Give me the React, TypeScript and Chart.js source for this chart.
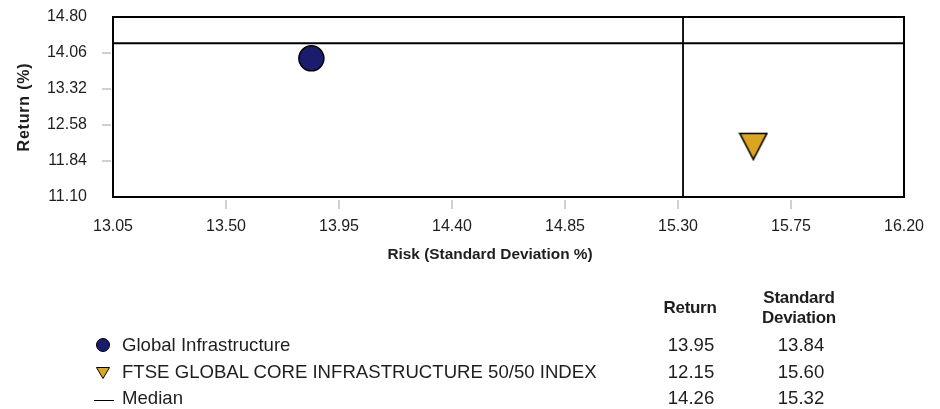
import React, { useEffect, useRef } from "react";
import { Chart, registerables } from "chart.js";

Chart.register(...registerables);

// ---- data ----
const seriesNames = ["Global Infrastructure", "FTSE GLOBAL CORE INFRASTRUCTURE 50/50 INDEX"];
const seriesRisk = [13.84, 15.6];
const seriesReturn = [13.95, 12.15];
const medianRisk = 15.32;
const medianReturn = 14.26;
const xTicks = [13.05, 13.5, 13.95, 14.4, 14.85, 15.3, 15.75, 16.2];
const yTicks = [11.1, 11.84, 12.58, 13.32, 14.06, 14.8];
const xTitle = "Risk (Standard Deviation %)";
const yTitle = "Return (%)";
const headerReturn = "Return";
const headerStd = ["Standard", "Deviation"];
const medianLabel = "Median";

const FONT = '"Liberation Sans", Arial, Helvetica, sans-serif';
const NAVY = "#1b1c6e";
const GOLD = "#daa520";
const TEXT = "#1e1e1e";

function makeTriangle(): HTMLCanvasElement {
  const c = document.createElement("canvas");
  c.width = 30;
  c.height = 30;
  const g = c.getContext("2d")!;
  g.beginPath();
  g.moveTo(1.5, 2.5);
  g.lineTo(28.5, 2.5);
  g.lineTo(15, 28.5);
  g.closePath();
  g.fillStyle = GOLD;
  g.fill();
  g.lineWidth = 1.6;
  g.lineJoin = "miter";
  g.strokeStyle = "#000";
  g.stroke();
  return c;
}

const framePlugin = {
  id: "frame",
  beforeDatasetsDraw(chart: any) {
    const { ctx, chartArea: a, scales } = chart;
    ctx.save();
    ctx.strokeStyle = "#d0d0d0";
    ctx.lineWidth = 2;
    xTicks.slice(1, -1).forEach((v) => {
      const px = Math.round(scales.x.getPixelForValue(v));
      ctx.beginPath();
      ctx.moveTo(px, a.bottom + 3);
      ctx.lineTo(px, a.bottom + 12);
      ctx.stroke();
    });
    yTicks.slice(1, -1).forEach((v) => {
      const py = Math.round(scales.y.getPixelForValue(v));
      ctx.beginPath();
      ctx.moveTo(a.left - 11, py);
      ctx.lineTo(a.left - 2, py);
      ctx.stroke();
    });
    ctx.restore();
  },
  afterDatasetsDraw(chart: any) {
    const { ctx, chartArea: a } = chart;
    ctx.save();
    ctx.strokeStyle = "#000";
    ctx.lineWidth = 2;
    ctx.strokeRect(a.left, a.top, a.right - a.left, a.bottom - a.top);
    ctx.restore();
  },
  afterDraw(chart: any) {
    const { ctx, chartArea: a } = chart;
    ctx.save();
    ctx.fillStyle = TEXT;
    ctx.textAlign = "center";
    ctx.textBaseline = "middle";
    ctx.font = `bold 15.4px ${FONT}`;
    ctx.fillText(xTitle, 490, 255);
    ctx.translate(25, (a.top + a.bottom) / 2);
    ctx.rotate(-Math.PI / 2);
    ctx.font = `bold 16px ${FONT}`;
    try { (ctx as any).letterSpacing = "0.8px"; } catch (e) {}
    ctx.fillText(yTitle, 0, 0);
    try { (ctx as any).letterSpacing = "0px"; } catch (e) {}
    ctx.restore();
  },
};

function App() {
  const ref = useRef<HTMLCanvasElement | null>(null);

  useEffect(() => {
    if (!ref.current) return;
    const tickFont = { family: FONT, size: 16 };
    const chart = new Chart(ref.current, {
      type: "scatter",
      data: {
        datasets: [
          {
            label: seriesNames[0],
            data: [{ x: seriesRisk[0], y: seriesReturn[0] }],
            pointStyle: "circle",
            pointRadius: 12.5,
            backgroundColor: NAVY,
            borderColor: "#000",
            borderWidth: 1.5,
          },
          {
            label: seriesNames[1],
            data: [{ x: seriesRisk[1], y: seriesReturn[1] }],
            pointStyle: makeTriangle(),
            pointRadius: 15,
            backgroundColor: GOLD,
            borderColor: "#000",
            borderWidth: 1.5,
          },
          {
            label: "Median Return",
            data: [
              { x: xTicks[0], y: medianReturn },
              { x: xTicks[xTicks.length - 1], y: medianReturn },
            ],
            showLine: true,
            pointRadius: 0,
            borderColor: "#000",
            borderWidth: 1.8,
            fill: false,
          } as any,
          {
            label: "Median Risk",
            data: [
              { x: medianRisk, y: yTicks[0] },
              { x: medianRisk, y: yTicks[yTicks.length - 1] },
            ],
            showLine: true,
            pointRadius: 0,
            borderColor: "#000",
            borderWidth: 1.8,
            fill: false,
          } as any,
        ],
      },
      options: {
        animation: false,
        responsive: false,
        devicePixelRatio: 1,
        layout: { padding: { left: 0, right: 36, top: 17, bottom: 0 } },
        plugins: {
          legend: { display: false },
          tooltip: { enabled: false },
        },
        scales: {
          x: {
            type: "linear",
            position: "bottom",
            min: xTicks[0],
            max: xTicks[xTicks.length - 1],
            afterBuildTicks: (s: any) => {
              s.ticks = xTicks.map((v) => ({ value: v }));
            },
            afterFit: (s: any) => {
              s.height = 409 - 197;
              s.paddingLeft = 0;
              s.paddingRight = 0;
            },
            grid: { display: false, drawTicks: false },
            border: { display: false },
            ticks: {
              font: tickFont,
              color: TEXT,
              padding: 20,
              maxRotation: 0,
              autoSkip: false,
              callback: (v: any) => Number(v).toFixed(2),
            },
          },
          y: {
            type: "linear",
            min: yTicks[0],
            max: yTicks[yTicks.length - 1],
            afterBuildTicks: (s: any) => {
              s.ticks = yTicks.map((v) => ({ value: v }));
            },
            afterFit: (s: any) => {
              s.width = 113;
              s.paddingTop = 0;
              s.paddingBottom = 0;
            },
            grid: { display: false, drawTicks: false },
            border: { display: false },
            ticks: {
              font: tickFont,
              color: TEXT,
              padding: 26,
              autoSkip: false,
              callback: (v: any) => Number(v).toFixed(2),
            },
          },
        },
      },
      plugins: [framePlugin],
    } as any);
    return () => chart.destroy();
  }, []);

  const rowY = [345, 372, 398];
  const rowText: React.CSSProperties = {
    position: "absolute",
    fontSize: 18.6,
    lineHeight: "22px",
    whiteSpace: "nowrap",
  };
  const valueCell = (cx: number, cy: number, txt: string) => (
    <div style={{ ...rowText, left: cx - 50, width: 100, top: cy - 11, textAlign: "center" }}>{txt}</div>
  );

  return (
    <div
      style={{
        position: "absolute",
        left: 0,
        top: 0,
        width: 940,
        height: 409,
        fontFamily: FONT,
        color: TEXT,
        background: "#fff",
        overflow: "hidden",
      }}
    >
      <canvas ref={ref} width={940} height={409} style={{ position: "absolute", left: 0, top: 0, width: 940, height: 409 }} />

      {/* table headers */}
      <div
        style={{
          position: "absolute",
          left: 640,
          width: 100,
          top: 298,
          textAlign: "center",
          fontWeight: "bold",
          fontSize: 17,
          lineHeight: "20px",
          letterSpacing: "-0.3px",
        }}
      >
        {headerReturn}
      </div>
      <div
        style={{
          position: "absolute",
          left: 739,
          width: 120,
          top: 288,
          textAlign: "center",
          fontWeight: "bold",
          fontSize: 17,
          lineHeight: "20px",
          letterSpacing: "-0.3px",
        }}
      >
        {headerStd[0]}
        <br />
        {headerStd[1]}
      </div>

      {/* row 1 */}
      <div
        style={{
          position: "absolute",
          left: 96,
          top: rowY[0] - 7,
          width: 14,
          height: 14,
          borderRadius: "50%",
          background: NAVY,
          boxSizing: "border-box",
          border: "1px solid #000",
        }}
      />
      <div style={{ ...rowText, left: 122, top: rowY[0] - 11 }}>{seriesNames[0]}</div>
      {valueCell(691, rowY[0], seriesReturn[0].toFixed(2))}
      {valueCell(801, rowY[0], seriesRisk[0].toFixed(2))}

      {/* row 2 */}
      <svg style={{ position: "absolute", left: 95, top: rowY[1] - 6 }} width={16} height={14}>
        <polygon points="1.5,1.5 14.5,1.5 8,12.5" fill={GOLD} stroke="#000" strokeWidth={1} />
      </svg>
      <div style={{ ...rowText, left: 122, top: rowY[1] - 11 }}>{seriesNames[1]}</div>
      {valueCell(691, rowY[1], seriesReturn[1].toFixed(2))}
      {valueCell(801, rowY[1], seriesRisk[1].toFixed(2))}

      {/* row 3 */}
      <div style={{ position: "absolute", left: 94, top: 400, width: 20, height: 0, borderTop: "1.5px solid #000" }} />
      <div style={{ ...rowText, left: 122, top: rowY[2] - 11 }}>{medianLabel}</div>
      {valueCell(691, rowY[2], medianReturn.toFixed(2))}
      {valueCell(801, rowY[2], medianRisk.toFixed(2))}
    </div>
  );
}

export default App;
